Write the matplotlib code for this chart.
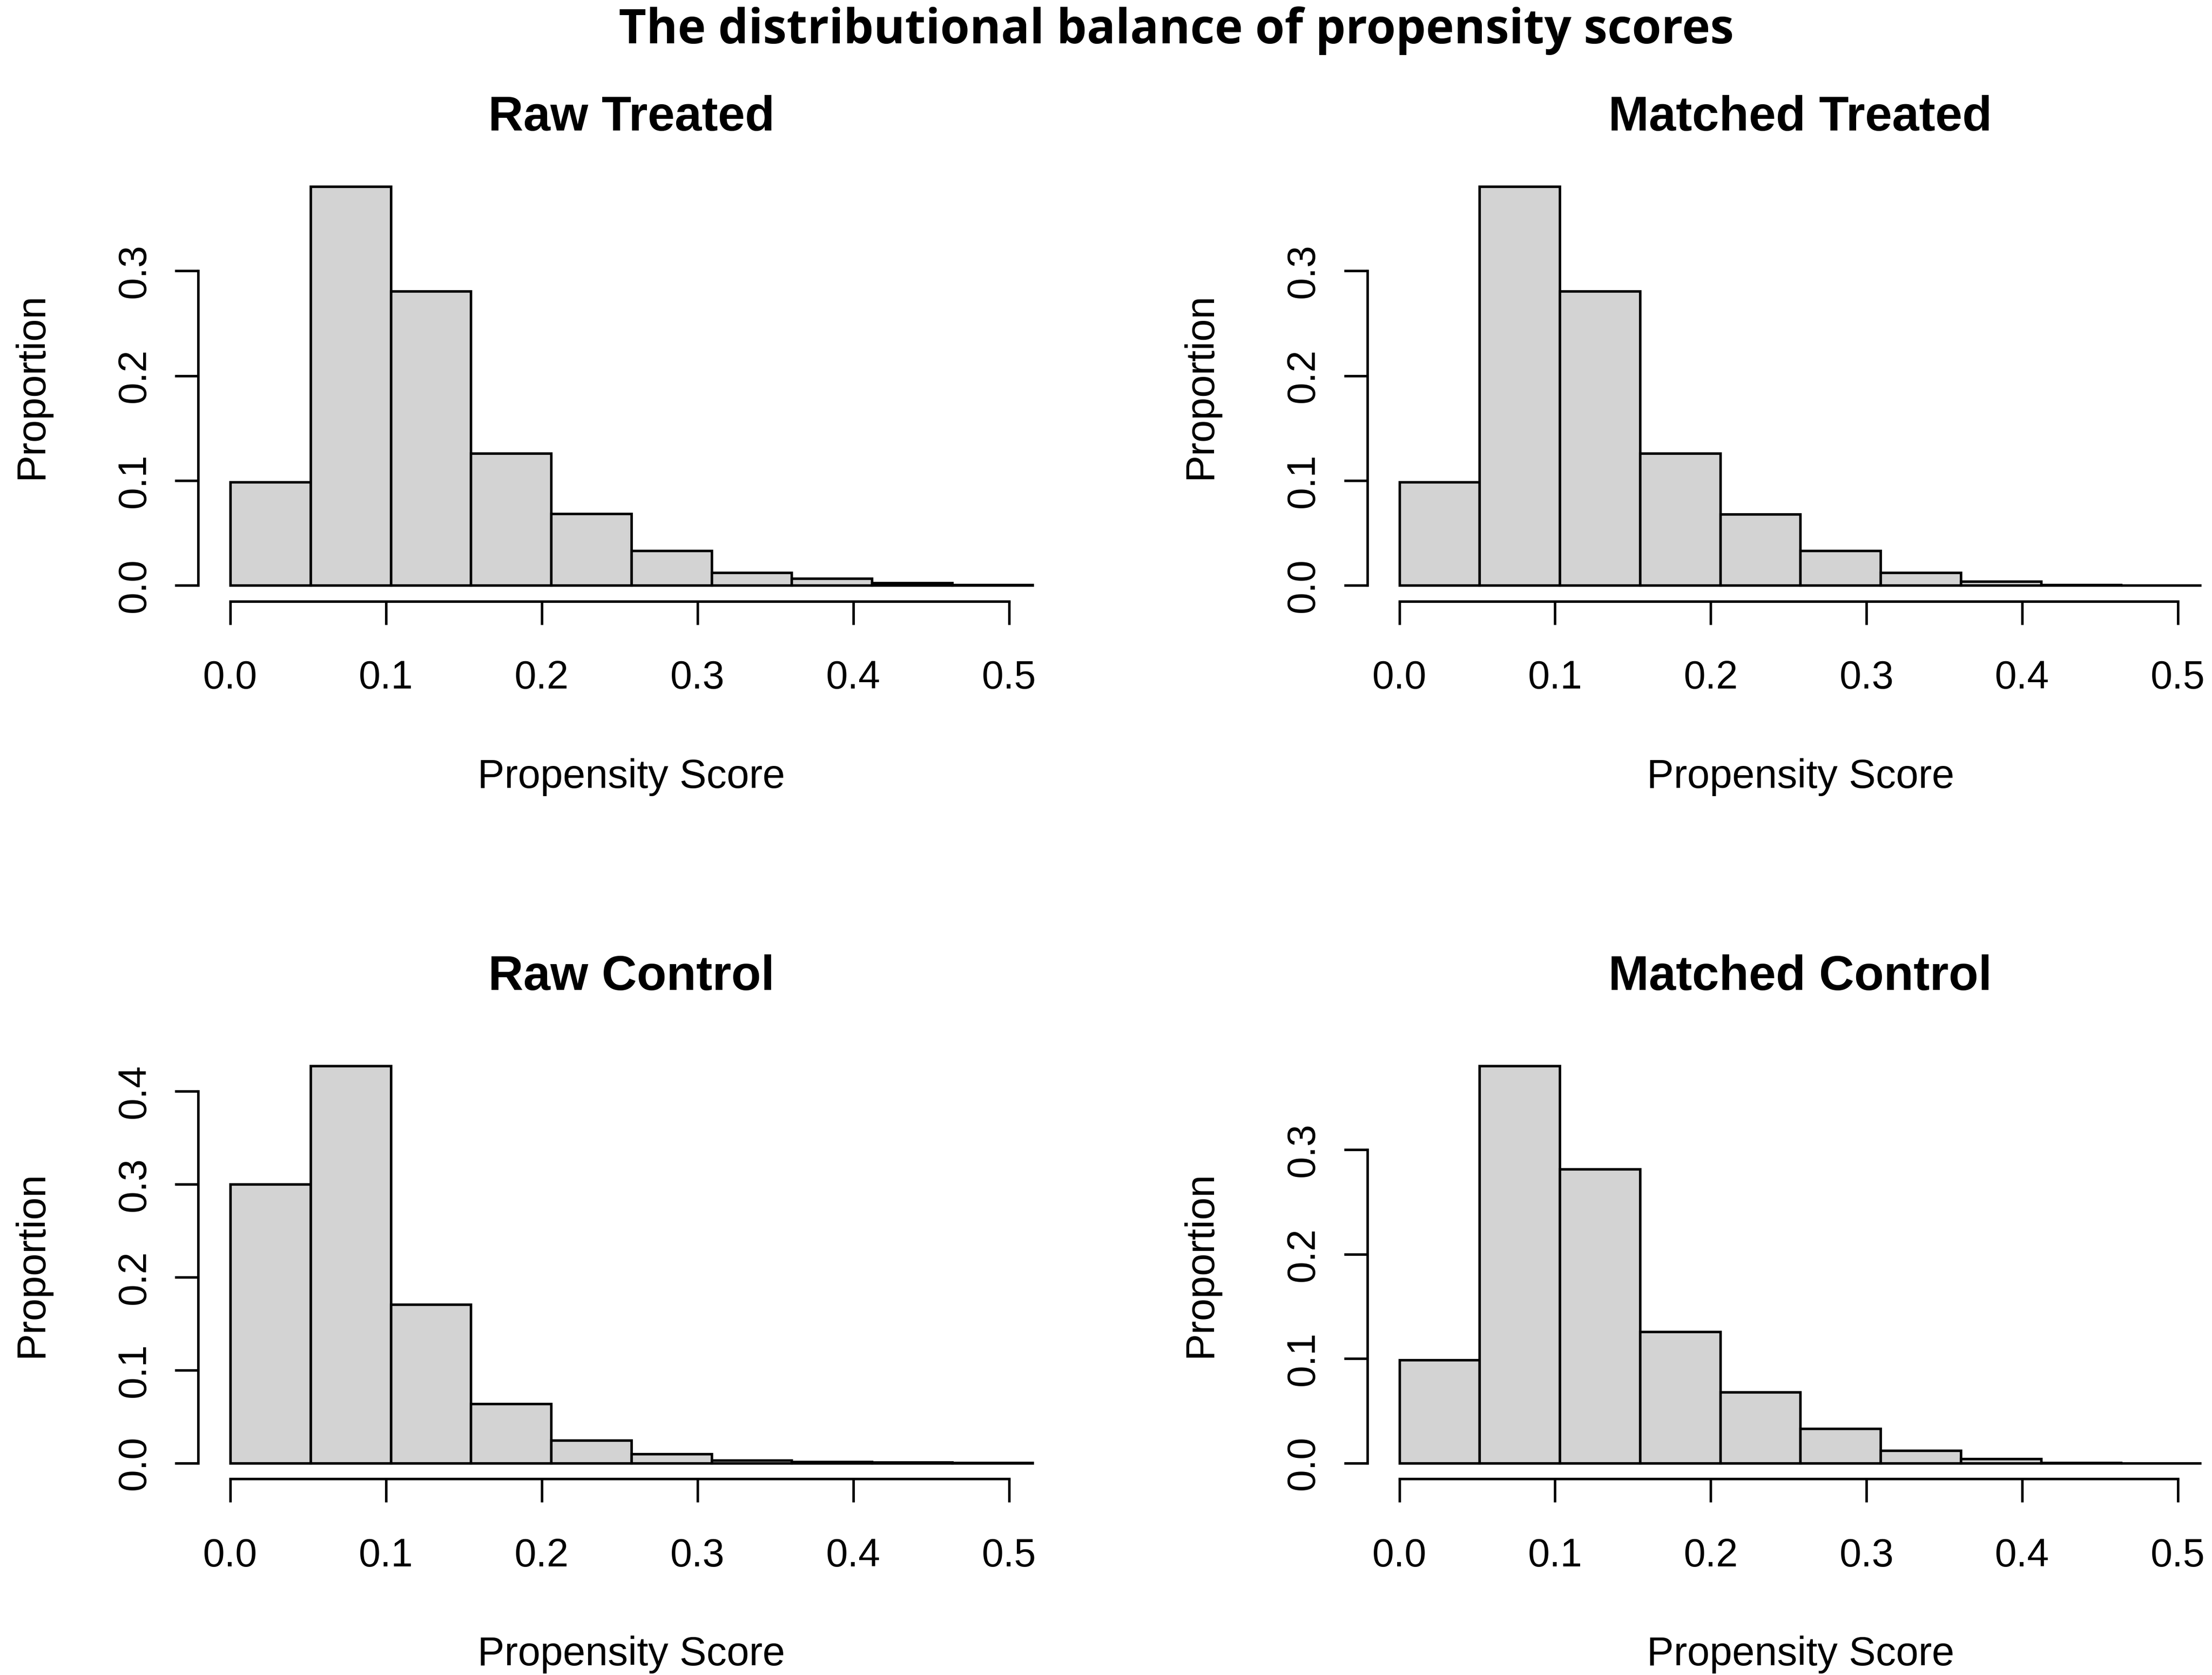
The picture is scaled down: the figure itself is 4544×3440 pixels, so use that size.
import matplotlib
matplotlib.use("Agg")
import matplotlib.pyplot as plt

# ---------------- data ----------------
bin_edges = [0.0, 0.0515, 0.103, 0.1545, 0.206, 0.2575, 0.309, 0.3605, 0.412, 0.4635, 0.515]
raw_treated = [0.0985, 0.3805, 0.2807, 0.1259, 0.0681, 0.0329, 0.0121, 0.0063, 0.0024, 0.0005]
matched_treated = [0.0985, 0.3805, 0.2807, 0.1259, 0.0678, 0.0329, 0.0121, 0.0038, 0.0003, 0.0]
raw_control = [0.300, 0.4276, 0.1707, 0.0636, 0.0243, 0.0097, 0.0030, 0.0013, 0.0007, 0.0003]
matched_control = [0.0985, 0.3805, 0.2813, 0.1259, 0.0681, 0.0329, 0.0118, 0.0038, 0.0003, 0.0]

panel_titles = ["Raw Treated", "Matched Treated", "Raw Control", "Matched Control"]
x_ticks = [0.0, 0.1, 0.2, 0.3, 0.4, 0.5]
x_tick_labels = ["0.0", "0.1", "0.2", "0.3", "0.4", "0.5"]
y_ticks_3 = [0.0, 0.1, 0.2, 0.3]
y_tick_labels_3 = ["0.0", "0.1", "0.2", "0.3"]
y_ticks_4 = [0.0, 0.1, 0.2, 0.3, 0.4]
y_tick_labels_4 = ["0.0", "0.1", "0.2", "0.3", "0.4"]
suptitle = "The distributional balance of propensity scores"
x_label = "Propensity Score"
y_label = "Proportion"

# ---------------- style ----------------
DPI = 290
fig = plt.figure(figsize=(4544 / DPI, 3440 / DPI), dpi=DPI)
plt.rcParams["font.family"] = ["Liberation Sans", "DejaVu Sans"]

BASE = 20
LABEL = 20.6
BAR_FILL = "#D3D3D3"
LW = 1.3

# axes rects [left, bottom, width, height] in figure fractions
rects = [
    [0.0896, 0.6411, 0.3916, 0.2570],
    [0.6181, 0.6411, 0.3916, 0.2570],
    [0.0896, 0.1171, 0.3916, 0.2561],
    [0.6181, 0.1171, 0.3916, 0.2561],
]
title_y = [1.093, 1.093, 1.140, 1.140]
series = [raw_treated, matched_treated, raw_control, matched_control]
yt = [(y_ticks_3, y_tick_labels_3), (y_ticks_3, y_tick_labels_3),
      (y_ticks_4, y_tick_labels_4), (y_ticks_3, y_tick_labels_3)]

lefts = bin_edges[:-1]
widths = [b - a for a, b in zip(bin_edges[:-1], bin_edges[1:])]

for rect, vals, ttl, ty, (yticks, ylabels) in zip(rects, series, panel_titles, title_y, yt):
    ax = fig.add_axes(rect)
    ax.bar(lefts, vals, width=widths, align="edge", color=BAR_FILL,
           edgecolor="black", linewidth=LW)
    vmax = max(vals)
    ax.set_xlim(-0.0206, 0.5356)
    ax.set_ylim(-0.04 * vmax, 1.04 * vmax)

    for s in ("top", "right"):
        ax.spines[s].set_visible(False)
    ax.spines["left"].set_bounds(yticks[0], yticks[-1])
    ax.spines["bottom"].set_bounds(x_ticks[0], x_ticks[-1])
    ax.spines["left"].set_linewidth(LW)
    ax.spines["bottom"].set_linewidth(LW)

    ax.set_xticks(x_ticks)
    ax.set_xticklabels(x_tick_labels)
    ax.set_yticks(yticks)
    ax.set_yticklabels(ylabels, rotation=90, va="center")
    ax.tick_params(axis="both", direction="out", length=12, width=LW,
                   labelsize=BASE, colors="black")
    ax.tick_params(axis="x", pad=18)
    ax.tick_params(axis="y", pad=11)

    ax.set_xlabel(x_label, fontsize=LABEL)
    ax.xaxis.set_label_coords(0.5, -0.365)
    ax.set_ylabel(y_label, fontsize=LABEL)
    ax.yaxis.set_label_coords(-0.1704, 0.5)

    ax.set_title(ttl, fontsize=24.8, fontweight="bold", y=ty, pad=0)

fig.suptitle(suptitle, x=0.5317, y=0.974, va="baseline",
             fontsize=24.3, fontweight="bold",
             family=["Open Sans", "DejaVu Sans"])

fig.savefig("out.png", dpi=DPI, facecolor="white")
